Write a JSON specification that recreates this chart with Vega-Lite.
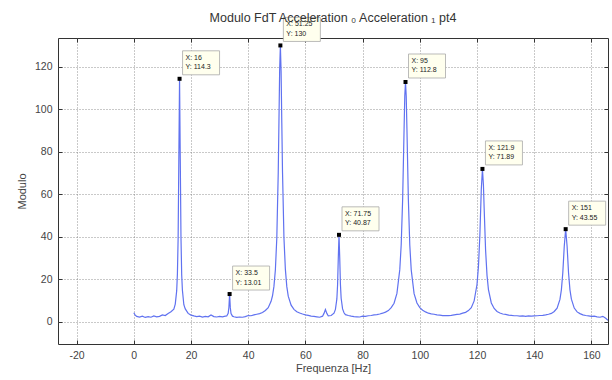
{
  "$schema": "https://vega.github.io/schema/vega-lite/v6.json",
  "autosize": "none",
  "width": 550,
  "height": 306,
  "padding": {"left": 58, "top": 38, "right": 4, "bottom": 36},
  "background": "white",
  "title": {"text": "Modulo FdT Acceleration ₀ Acceleration ₁ pt4", "font": "Liberation Sans", "fontSize": 12.5, "fontWeight": "normal", "color": "#333", "offset": -9},
  "config": {
    "view": {"stroke": "#333", "strokeWidth": 1},
    "axis": {"labelFont": "Liberation Sans", "labelFontSize": 10.5, "labelColor": "#444", "titleFont": "Liberation Sans", "titleFontSize": 11, "titleFontWeight": "normal", "titleColor": "#444", "domain": false, "tickColor": "#333", "tickSize": -4, "gridColor": "#777", "gridDash": [1, 2], "gridOpacity": 1, "gridWidth": 0.8, "labelExpr": "'' + datum.value"}
  },
  "datasets": {
    "spectrum": [
      {"f": 0, "m": 4.2}, {"f": 0.5, "m": 3.1}, {"f": 1, "m": 2.5}, {"f": 2, "m": 2.2}, {"f": 3, "m": 2.6}, {"f": 4, "m": 2.0}, {"f": 5, "m": 2.4}, {"f": 6, "m": 2.1}, {"f": 7, "m": 2.7}, {"f": 8, "m": 2.3}, {"f": 9, "m": 2.5}, {"f": 10, "m": 3.2}, {"f": 11, "m": 2.9}, {"f": 12, "m": 3.9}, {"f": 13, "m": 4.7},
      {"f": 14, "m": 5.9}, {"f": 14.5, "m": 8.3}, {"f": 15, "m": 14.6}, {"f": 15.25, "m": 22.5}, {"f": 15.5, "m": 39.3}, {"f": 15.75, "m": 76.7}, {"f": 16, "m": 114.3}, {"f": 16.25, "m": 76.5}, {"f": 16.5, "m": 39.5}, {"f": 16.75, "m": 22.0}, {"f": 17, "m": 14.8}, {"f": 17.5, "m": 8.0}, {"f": 18, "m": 6.0}, {"f": 19, "m": 3.9}, {"f": 20, "m": 3.1},
      {"f": 21, "m": 2.7}, {"f": 22, "m": 2.4}, {"f": 23, "m": 2.6}, {"f": 24, "m": 2.2}, {"f": 25, "m": 2.5}, {"f": 26, "m": 2.3}, {"f": 27, "m": 3.2}, {"f": 28, "m": 2.4}, {"f": 29, "m": 2.2}, {"f": 30, "m": 2.5}, {"f": 31, "m": 2.3}, {"f": 32, "m": 2.6},
      {"f": 32.5, "m": 2.7}, {"f": 33, "m": 3.9}, {"f": 33.25, "m": 6.7}, {"f": 33.5, "m": 13.01}, {"f": 33.75, "m": 6.5}, {"f": 34, "m": 3.8}, {"f": 34.5, "m": 2.6}, {"f": 35, "m": 2.3},
      {"f": 36, "m": 2.0}, {"f": 37, "m": 2.2}, {"f": 38, "m": 2.1}, {"f": 39, "m": 2.4}, {"f": 40, "m": 2.9}, {"f": 41, "m": 2.8}, {"f": 42, "m": 3.2}, {"f": 43, "m": 3.5}, {"f": 44, "m": 3.8}, {"f": 45, "m": 4.3}, {"f": 46, "m": 5.3}, {"f": 47, "m": 6.6}, {"f": 48, "m": 9.6}, {"f": 48.5, "m": 12.2}, {"f": 49, "m": 16.6}, {"f": 49.5, "m": 24.3}, {"f": 50, "m": 39.3}, {"f": 50.5, "m": 70.0}, {"f": 50.75, "m": 94.0}, {"f": 51, "m": 118.5}, {"f": 51.25, "m": 130}, {"f": 51.5, "m": 118.0}, {"f": 51.75, "m": 93.5}, {"f": 52, "m": 70.3}, {"f": 52.5, "m": 39.5}, {"f": 53, "m": 24.6}, {"f": 53.5, "m": 16.5}, {"f": 54, "m": 12.0}, {"f": 55, "m": 7.8}, {"f": 56, "m": 5.8}, {"f": 57, "m": 4.7}, {"f": 58, "m": 4.1}, {"f": 59, "m": 3.6}, {"f": 60, "m": 3.2}, {"f": 61, "m": 3.0}, {"f": 62, "m": 2.6}, {"f": 63, "m": 2.5}, {"f": 64, "m": 2.3}, {"f": 65, "m": 2.1},
      {"f": 66, "m": 2.6}, {"f": 66.5, "m": 3.9}, {"f": 67, "m": 5.7}, {"f": 67.5, "m": 3.9}, {"f": 68, "m": 2.7}, {"f": 69, "m": 2.9}, {"f": 70, "m": 4.0}, {"f": 70.5, "m": 5.8}, {"f": 71, "m": 10.7}, {"f": 71.25, "m": 17.3}, {"f": 71.5, "m": 30.0}, {"f": 71.75, "m": 40.87}, {"f": 72, "m": 30.2}, {"f": 72.25, "m": 17.5}, {"f": 72.5, "m": 11.0}, {"f": 73, "m": 6.0}, {"f": 73.5, "m": 4.2}, {"f": 74, "m": 3.3}, {"f": 75, "m": 2.9}, {"f": 76, "m": 2.6}, {"f": 77, "m": 2.4}, {"f": 78, "m": 2.3}, {"f": 79, "m": 2.2}, {"f": 80, "m": 2.6},
      {"f": 81, "m": 2.5}, {"f": 82, "m": 2.8}, {"f": 83, "m": 2.9}, {"f": 84, "m": 3.2}, {"f": 85, "m": 3.3}, {"f": 86, "m": 3.6}, {"f": 87, "m": 4.0}, {"f": 88, "m": 4.5}, {"f": 89, "m": 5.2}, {"f": 90, "m": 6.6}, {"f": 91, "m": 8.7}, {"f": 92, "m": 13.3}, {"f": 93, "m": 24.5}, {"f": 93.5, "m": 36.3}, {"f": 94, "m": 57.6}, {"f": 94.5, "m": 90.6}, {"f": 94.75, "m": 106.3}, {"f": 95, "m": 112.8}, {"f": 95.25, "m": 106.2}, {"f": 95.5, "m": 90.8}, {"f": 96, "m": 57.5}, {"f": 96.5, "m": 36.0}, {"f": 97, "m": 24.4}, {"f": 98, "m": 13.2}, {"f": 99, "m": 8.8},
      {"f": 100, "m": 6.6}, {"f": 101, "m": 5.4}, {"f": 102, "m": 4.6}, {"f": 103, "m": 4.0}, {"f": 104, "m": 3.7}, {"f": 105, "m": 3.5}, {"f": 106, "m": 3.2}, {"f": 107, "m": 3.1}, {"f": 108, "m": 2.9}, {"f": 109, "m": 2.9}, {"f": 110, "m": 2.9}, {"f": 111, "m": 3.0}, {"f": 112, "m": 3.2}, {"f": 113, "m": 3.4}, {"f": 114, "m": 3.6}, {"f": 115, "m": 4.0}, {"f": 116, "m": 4.4}, {"f": 117, "m": 5.2}, {"f": 118, "m": 6.6}, {"f": 119, "m": 9.8}, {"f": 120, "m": 17.5}, {"f": 120.5, "m": 25.9}, {"f": 121, "m": 40.7}, {"f": 121.5, "m": 62.2}, {"f": 121.9, "m": 71.89}, {"f": 122.25, "m": 64.2}, {"f": 122.5, "m": 53.4}, {"f": 123, "m": 33.7}, {"f": 123.5, "m": 21.8}, {"f": 124, "m": 15.1}, {"f": 125, "m": 8.8}, {"f": 126, "m": 6.2}, {"f": 127, "m": 4.8}, {"f": 128, "m": 4.1}, {"f": 129, "m": 3.6}, {"f": 130, "m": 3.4},
      {"f": 131, "m": 3.1}, {"f": 132, "m": 3.0}, {"f": 133, "m": 2.8}, {"f": 134, "m": 2.8}, {"f": 135, "m": 2.6}, {"f": 136, "m": 2.7}, {"f": 137, "m": 2.5}, {"f": 138, "m": 2.7}, {"f": 139, "m": 2.6}, {"f": 140, "m": 2.7}, {"f": 141, "m": 2.8}, {"f": 142, "m": 2.9}, {"f": 143, "m": 3.0}, {"f": 144, "m": 3.2}, {"f": 145, "m": 3.5}, {"f": 146, "m": 3.9}, {"f": 147, "m": 4.8}, {"f": 148, "m": 6.4}, {"f": 149, "m": 10.5}, {"f": 149.5, "m": 15.0}, {"f": 150, "m": 23.0}, {"f": 150.5, "m": 35.4}, {"f": 151, "m": 43.55}, {"f": 151.5, "m": 35.5}, {"f": 152, "m": 23.0}, {"f": 152.5, "m": 15.0}, {"f": 153, "m": 10.6}, {"f": 154, "m": 6.4}, {"f": 155, "m": 4.6}, {"f": 156, "m": 3.8}, {"f": 157, "m": 3.2}, {"f": 158, "m": 2.9}, {"f": 159, "m": 2.7}, {"f": 160, "m": 2.5}, {"f": 161, "m": 2.6}, {"f": 162, "m": 2.3}, {"f": 163, "m": 2.1}, {"f": 164, "m": 2.5}, {"f": 165, "m": 1.6}, {"f": 165.8, "m": 0.6}
    ],
    "tips": [
      {"f": 16, "m": 114.3, "label": "X: 16\nY: 114.3"},
      {"f": 33.5, "m": 13.01, "label": "X: 33.5\nY: 13.01"},
      {"f": 51.25, "m": 130, "label": "X: 51.25\nY: 130"},
      {"f": 71.75, "m": 40.87, "label": "X: 71.75\nY: 40.87"},
      {"f": 95, "m": 112.8, "label": "X: 95\nY: 112.8"},
      {"f": 121.9, "m": 71.89, "label": "X: 121.9\nY: 71.89"},
      {"f": 151, "m": 43.55, "label": "X: 151\nY: 43.55"}
    ]
  },
  "layer": [
    {
      "data": {"name": "spectrum"},
      "mark": {"type": "line", "color": "#6072f0", "strokeWidth": 1.2, "clip": true},
      "encoding": {
        "x": {"field": "f", "type": "quantitative", "scale": {"domain": [-26.5, 165.8], "nice": false, "zero": false}, "axis": {"values": [-20, 0, 20, 40, 60, 80, 100, 120, 140, 160], "title": "Frequenza [Hz]", "labelPadding": 10, "titlePadding": 2}},
        "y": {"field": "m", "type": "quantitative", "scale": {"domain": [-10.5, 133.5], "nice": false, "zero": false}, "axis": {"values": [0, 20, 40, 60, 80, 100, 120], "title": "Modulo", "labelPadding": 10, "titlePadding": 7}}
      }
    },
    {
      "data": {"name": "tips"},
      "layer": [
        {
          "mark": {"type": "point", "shape": "M0.06,-0.56H0.8V-0.08H0.06Z", "size": 10000, "filled": true, "fill": "#ffffee", "stroke": "#aaaaaa", "strokeWidth": 0.8, "opacity": 1},
          "encoding": {
            "x": {"field": "f", "type": "quantitative", "axis": {"orient": "top", "values": [-20, 0, 20, 40, 60, 80, 100, 120, 140, 160], "labels": false, "grid": false, "title": null}},
            "y": {"field": "m", "type": "quantitative", "axis": {"orient": "right", "values": [0, 20, 40, 60, 80, 100, 120], "labels": false, "grid": false, "title": null}}
          }
        },
        {
          "mark": {"type": "square", "size": 16, "color": "black", "opacity": 1},
          "encoding": {
            "x": {"field": "f", "type": "quantitative"},
            "y": {"field": "m", "type": "quantitative"}
          }
        },
        {
          "mark": {"type": "text", "align": "left", "baseline": "top", "dx": 6, "dy": -25, "fontSize": 7, "font": "Liberation Sans", "color": "#222", "lineBreak": "\n", "lineHeight": 9.5},
          "encoding": {
            "x": {"field": "f", "type": "quantitative"},
            "y": {"field": "m", "type": "quantitative"},
            "text": {"field": "label"}
          }
        }
      ]
    }
  ],
  "resolve": {"axis": {"x": "independent", "y": "independent"}}
}
